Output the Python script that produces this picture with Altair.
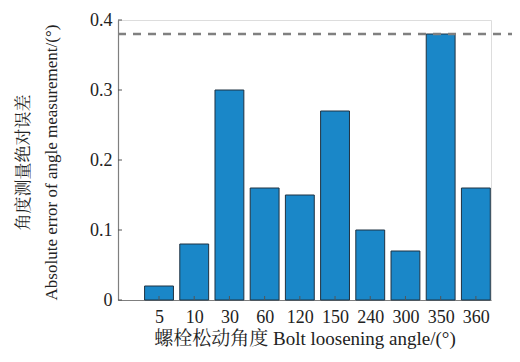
import altair as alt
import pandas as pd

categories = ["5", "10", "30", "60", "120", "150", "240", "300", "350", "360"]
errors = [0.02, 0.08, 0.30, 0.16, 0.15, 0.27, 0.10, 0.07, 0.38, 0.16]
y_ticks = [0, 0.1, 0.2, 0.3, 0.4]
ref_value = 0.38

W, H = 373, 280
HALF = 0.41
FONT = "Liberation Serif, Noto Serif CJK SC, Noto Sans CJK SC"

df = pd.DataFrame({
    "idx": list(range(1, len(categories) + 1)),
    "cat": categories,
    "err": errors,
})
df["x0"] = df["idx"] - HALF
df["x1"] = df["idx"] + HALF

label_arr = "[" + ",".join("'%s'" % c for c in categories) + "]"

xscale = alt.Scale(domain=[-0.165, 10.43], nice=False, zero=False)
yscale = alt.Scale(domain=[0, 0.4], nice=False)

bars = alt.Chart(df).mark_bar(
    color="#1a87c8", stroke="#1f3242", strokeWidth=1
).encode(
    x=alt.X("x0:Q", scale=xscale,
            axis=alt.Axis(values=list(range(1, len(categories) + 1)),
                          labelExpr=label_arr + "[datum.value-1]",
                          title="螺栓松动角度 Bolt loosening angle/(°)",
                          grid=False, tickSize=0, labelPadding=8,
                          domainColor="#7f7f7f", domainWidth=1.2,
                          labelFont=FONT, labelFontSize=18, labelColor="#222",
                          titleFont=FONT, titleFontSize=19, titleColor="#222",
                          titleFontWeight="normal", titlePadding=3)),
    x2="x1:Q",
    y=alt.Y("err:Q", scale=yscale,
            axis=alt.Axis(values=y_ticks, format="~g",
                          title=["角度测量绝对误差", "Absolute error of angle measurement/(°)"],
                          grid=False, tickSize=0, labelPadding=6,
                          domainColor="#7f7f7f", domainWidth=1.2,
                          labelFont=FONT, labelFontSize=18, labelColor="#222",
                          titleFont=FONT, titleFontSize=17, titleColor="#222",
                          titleFontWeight="normal", titleLineHeight=28,
                          titleX=-95, titleY=H / 2 + 2, titleAngle=-90,
                          titleBaseline="middle", titleAlign="center")),
    y2=alt.datum(0),
)

xt = pd.DataFrame({"idx": df["idx"]})
xticks = alt.Chart(xt).mark_rule(color="#555", strokeWidth=1).encode(
    x=alt.X("idx:Q", scale=xscale),
    y=alt.value(H), y2=alt.value(H - 4),
)

yt = pd.DataFrame({"v": y_ticks})
yticks = alt.Chart(yt).mark_rule(color="#555", strokeWidth=1).encode(
    y=alt.Y("v:Q", scale=yscale),
    x=alt.value(0), x2=alt.value(4),
)

refdf = pd.DataFrame({"ref": [ref_value]})
ref = alt.Chart(refdf).mark_rule(
    color="#808080", strokeWidth=2.5, strokeDash=[8, 7], clip=False
).encode(
    y=alt.Y("ref:Q", scale=yscale),
    x=alt.value(0), x2=alt.value(W + 40),
)

chart = alt.layer(bars, xticks, yticks, ref).properties(
    width=W, height=H,
    autosize=alt.AutoSizeParams(type="none"),
    padding={"left": 110, "top": 12, "right": 21, "bottom": 54},
).configure_view(stroke=None).configure(background="white")

chart.save("out.html", embed_options={"renderer": "svg", "actions": False})
